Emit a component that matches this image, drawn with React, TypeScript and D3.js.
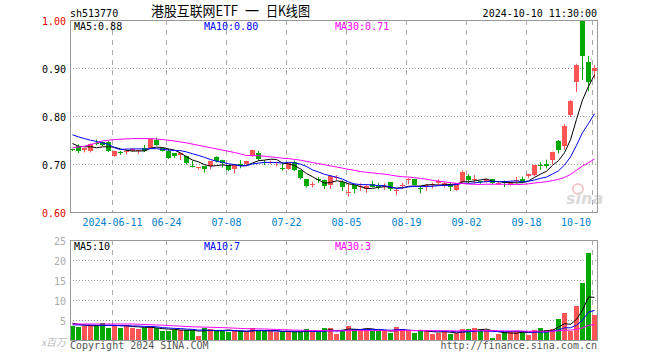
import React from 'react';
import * as d3 from 'd3';

// ---------- data ----------
const dates = [
  '05-30','05-31','06-03','06-04','06-05','06-06','06-07','06-11','06-12','06-13',
  '06-14','06-17','06-18','06-19','06-20','06-21','06-24','06-25','06-26','06-27',
  '06-28','07-01','07-02','07-03','07-04','07-05','07-08','07-09','07-10','07-11',
  '07-12','07-15','07-16','07-17','07-18','07-19','07-22','07-23','07-24','07-25',
  '07-26','07-29','07-30','07-31','08-01','08-02','08-05','08-06','08-07','08-08',
  '08-09','08-12','08-13','08-14','08-15','08-16','08-19','08-20','08-21','08-22',
  '08-23','08-26','08-27','08-28','08-29','08-30','09-02','09-03','09-04','09-05',
  '09-06','09-09','09-10','09-11','09-12','09-13','09-18','09-19','09-20','09-23',
  '09-24','09-25','09-26','09-27','09-30','10-08','10-09','10-10'
];
const opens = [
  0.731,0.737,0.728,0.728,0.743,0.746,0.746,0.718,0.725,0.727,
  0.728,0.728,0.734,0.734,0.751,0.734,0.728,0.722,0.717,0.716,
  0.695,0.693,0.695,0.695,0.715,0.709,0.697,0.688,0.700,0.699,
  0.717,0.723,0.705,0.704,0.703,0.692,0.690,0.704,0.687,0.669,
  0.658,0.668,0.667,0.657,0.672,0.662,0.641,0.656,0.653,0.647,
  0.659,0.654,0.654,0.662,0.644,0.656,0.667,0.669,0.650,0.656,
  0.657,0.660,0.656,0.659,0.646,0.662,0.674,0.668,0.664,0.663,
  0.669,0.660,0.662,0.660,0.665,0.669,0.674,0.676,0.697,0.700,
  0.708,0.747,0.738,0.802,0.872,1.000,0.912,0.893
];
const highs = [
  0.733,0.742,0.734,0.744,0.752,0.748,0.748,0.729,0.728,0.731,
  0.734,0.731,0.741,0.754,0.756,0.735,0.733,0.724,0.723,0.718,
  0.708,0.694,0.696,0.707,0.717,0.710,0.698,0.698,0.709,0.707,
  0.731,0.728,0.709,0.708,0.706,0.702,0.704,0.708,0.688,0.670,
  0.664,0.674,0.669,0.678,0.678,0.667,0.661,0.657,0.661,0.659,
  0.666,0.661,0.661,0.663,0.649,0.662,0.672,0.670,0.655,0.660,
  0.662,0.669,0.664,0.662,0.661,0.688,0.680,0.678,0.666,0.670,
  0.670,0.664,0.667,0.664,0.674,0.675,0.681,0.699,0.705,0.710,
  0.726,0.751,0.784,0.834,0.910,1.000,0.926,0.907
];
const lows = [
  0.728,0.724,0.725,0.725,0.740,0.738,0.726,0.716,0.720,0.721,
  0.727,0.722,0.726,0.733,0.739,0.727,0.712,0.714,0.709,0.700,
  0.694,0.689,0.683,0.690,0.704,0.694,0.686,0.681,0.692,0.698,
  0.716,0.708,0.699,0.701,0.696,0.687,0.689,0.686,0.669,0.652,
  0.652,0.662,0.649,0.649,0.667,0.645,0.633,0.640,0.645,0.641,
  0.652,0.648,0.647,0.645,0.636,0.649,0.659,0.656,0.640,0.645,
  0.650,0.657,0.652,0.645,0.645,0.661,0.659,0.660,0.660,0.662,
  0.658,0.657,0.653,0.656,0.660,0.661,0.671,0.675,0.689,0.692,
  0.700,0.723,0.731,0.799,0.851,0.876,0.853,0.879
];
const closes = [
  0.730,0.727,0.733,0.742,0.742,0.740,0.728,0.728,0.724,0.728,
  0.732,0.729,0.728,0.752,0.740,0.728,0.714,0.716,0.722,0.701,
  0.694,0.694,0.688,0.706,0.706,0.702,0.687,0.697,0.696,0.706,
  0.730,0.710,0.704,0.705,0.704,0.691,0.702,0.687,0.670,0.655,
  0.659,0.667,0.655,0.676,0.673,0.652,0.642,0.648,0.654,0.654,
  0.653,0.653,0.655,0.648,0.645,0.657,0.668,0.657,0.649,0.657,
  0.658,0.665,0.660,0.652,0.660,0.683,0.665,0.669,0.663,0.669,
  0.660,0.661,0.661,0.661,0.666,0.662,0.679,0.697,0.696,0.695,
  0.724,0.728,0.780,0.831,0.907,0.926,0.870,0.900
];
// volume, millions
const volumes = [
  3.6,3.2,3.6,3.7,3.7,4.2,3.1,3.7,3.1,3.8,
  3.1,2.8,2.9,3.4,2.9,2.2,2.2,2.6,2.6,2.6,
  2.4,0.9,3.1,2.8,2.4,2.4,1.9,2.2,2.2,2.0,
  3.1,2.2,2.2,2.2,2.0,2.0,2.2,2.0,2.0,2.7,
  2.0,2.0,3.1,3.0,1.5,2.6,3.6,2.7,2.7,2.7,
  2.2,2.2,2.2,1.8,3.2,2.7,2.2,1.8,2.2,2.6,
  1.6,1.8,2.2,1.5,1.7,2.7,2.7,3.1,2.7,2.4,
  0.6,1.6,1.9,2.2,2.2,1.9,1.2,2.6,3.1,2.4,
  2.8,5.3,6.8,2.3,8.6,14.3,21.8,6.3
];
// moving-average values before the window is complete
const ma5Head: [number, number][] = [[0, 0.7437], [1, 0.738], [2, 0.737], [3, 0.737]];
const ma10Head: [number, number][] = [[0, 0.762], [1, 0.7575], [2, 0.754], [3, 0.7506], [4, 0.748], [5, 0.745], [6, 0.742], [7, 0.735], [8, 0.731]];
const ma30Head: [number, number][] = [[0, 0.735], [2, 0.738], [4, 0.745], [5, 0.749], [7, 0.752], [10, 0.754], [13, 0.754], [15, 0.752], [17, 0.749], [19, 0.745], [21, 0.740], [23, 0.735], [25, 0.730], [27, 0.725], [28, 0.722]];
const volMa5Head: [number, number][] = [[0, 4.2], [1, 3.9], [2, 3.7], [3, 3.6]];
const volMa10Head: [number, number][] = [[0, 3.8], [4, 3.7], [8, 3.6]];
const volMa30Head: [number, number][] = [[0, 4.0], [10, 4.0], [15, 3.7], [20, 3.3], [25, 3.1], [28, 2.9]];

const tickDates = ['06-11', '06-24', '07-08', '07-22', '08-05', '08-19', '09-02', '09-18', '10-10'];
const tickLabels = ['2024-06-11', '06-24', '07-08', '07-22', '08-05', '08-19', '09-02', '09-18', '10-10'];
const priceTicks = [0.6, 0.7, 0.8, 0.9, 1.0];
const volTicks = [5, 10, 15, 20, 25];

const titleParts = ['港股互联网ETF', '一', '日K线图'];
const maLabels = ['MA5:0.88', 'MA10:0.80', 'MA30:0.71'];
const volMaLabels = ['MA5:10', 'MA10:7', 'MA30:3'];
const maColors = ['#000000', '#0000ff', '#ff00ff'];

// ---------- layout ----------
const W = 660, H = 360;
const L = 70, R = 597;
const mainTop = 20, mainBot = 212;
const volTop = 240, volBot = 340;
const UP = '#ff5555';
const DOWN = '#00a800';
const MONO = '"DejaVu Sans Mono", "Liberation Mono", monospace';
const CJK = '"Noto Sans CJK SC", sans-serif';

function movingAvg(values: number[], n: number, head: [number, number][]): [number, number][] {
  const pts: [number, number][] = head.slice();
  for (let i = n - 1; i < values.length; i++) {
    pts.push([i, d3.mean(values.slice(i - n + 1, i + 1)) as number]);
  }
  return pts;
}

export default function App() {
  const x = d3.scaleBand<string>().domain(dates).range([L, R]).paddingInner(1 / 6).paddingOuter(0);
  const bw = x.bandwidth();
  const y = d3.scaleLinear().domain([0.6, 1.0]).range([mainBot + 0.5, mainTop + 0.5]);
  const yv = d3.scaleLinear().domain([0, 25]).range([volBot, volTop]);

  const lineP = d3.line<[number, number]>().x(d => (x(dates[d[0]]) as number) + bw / 2).y(d => y(d[1]));
  const lineV = d3.line<[number, number]>().x(d => (x(dates[d[0]]) as number) + bw / 2).y(d => yv(d[1]));

  const priceMAs = [movingAvg(closes, 5, ma5Head), movingAvg(closes, 10, ma10Head), movingAvg(closes, 30, ma30Head)];
  const volMAs = [movingAvg(volumes, 5, volMa5Head), movingAvg(volumes, 10, volMa10Head), movingAvg(volumes, 30, volMa30Head)];

  const gridXs = tickDates.map(d => Math.round(x(d) as number) + 0.5);

  return (
    <svg width={W} height={H} style={{ position: 'absolute', left: 0, top: 0, background: '#fff' }}>
      <defs>
        <clipPath id="mainClip"><rect x={L} y={mainTop} width={R - L + 1} height={mainBot - mainTop + 1} /></clipPath>
        <clipPath id="volClip"><rect x={L} y={volTop} width={R - L + 1} height={volBot - volTop + 1} /></clipPath>
      </defs>

      {/* header */}
      <text x={L} y={16.5} fontFamily={MONO} fontSize={10} fill="#000">sh513770</text>
      <text x={151} y={16} fontFamily={CJK} fontSize={14} fill="#000" textLength={87} lengthAdjust="spacingAndGlyphs">{titleParts[0]}</text>
      <text x={245} y={16} fontFamily={CJK} fontSize={14} fill="#000">{titleParts[1]}</text>
      <text x={266} y={16} fontFamily={CJK} fontSize={14} fill="#000" textLength={44} lengthAdjust="spacingAndGlyphs">{titleParts[2]}</text>
      <text x={R} y={16.5} textAnchor="end" fontFamily={MONO} fontSize={10} fill="#000">2024-10-10 11:30:00</text>

      {/* main grid */}
      {priceTicks.filter(t => t > 0.6 && t < 1.0).map(t => (
        <line key={'hp' + t} x1={L} x2={R} y1={y(t)} y2={y(t)} stroke="#999" strokeDasharray="1,2" />
      ))}
      {gridXs.map((gx, i) => (
        <line key={'vg' + i} x1={gx} x2={gx} y1={mainTop} y2={mainBot} stroke="#aaa" strokeDasharray="5,5" />
      ))}

      {/* watermark */}
      <g opacity={0.9}>
        <circle cx={578} cy={189} r={5} fill="none" stroke="#f4c4c4" strokeWidth={2} />
        <text x={566} y={204} fontFamily='"DejaVu Sans", sans-serif' fontStyle="italic" fontWeight="bold" fontSize={16} fill="#d6d6d6">sina</text>
      </g>

      {/* candles */}
      <g clipPath="url(#mainClip)">
        {dates.map((d, i) => {
          const o = opens[i], c = closes[i], hi = highs[i], lo = lows[i];
          const col = c >= o ? UP : DOWN;
          const left = x(d) as number;
          const yo = y(o), yc = y(c);
          const top = Math.round(Math.min(yo, yc) - 0.5);
          const h = Math.max(1, Math.round(Math.abs(yo - yc)));
          const cx = left + Math.floor(bw / 2) + 0.5;
          return (
            <g key={'c' + i}>
              <line x1={cx} x2={cx} y1={y(hi)} y2={y(lo)} stroke={col} strokeWidth={1} />
              <rect x={left} y={top} width={bw} height={h} fill={col} />
            </g>
          );
        })}
        {priceMAs.map((pts, k) => (
          <path key={'ma' + k} d={lineP(pts) as string} fill="none" stroke={maColors[k]} strokeWidth={1} />
        ))}
      </g>

      {/* main frame */}
      <rect x={L + 0.5} y={mainTop + 0.5} width={R - L} height={mainBot - mainTop} fill="none" stroke="#999" />

      {/* price labels */}
      {priceTicks.map(t => (
        <text key={'pl' + t} x={66} y={y(t) + 4} textAnchor="end" fontFamily={MONO} fontSize={10}
          fill={t === 0.6 || t === 1.0 ? '#e00000' : '#000'}>{t.toFixed(2)}</text>
      ))}
      {maLabels.map((s, k) => (
        <text key={'ml' + k} x={[74, 204, 335][k]} y={29.5} fontFamily={MONO} fontSize={10} fill={maColors[k]}>{s}</text>
      ))}

      {/* date labels */}
      {tickLabels.map((s, i) => {
        const last = i === tickLabels.length - 1;
        return (
          <text key={'dl' + i} x={last ? 591 : gridXs[i]} y={225.5} textAnchor={last ? 'end' : 'middle'}
            fontFamily={MONO} fontSize={10} fill="#0080cc">{s}</text>
        );
      })}

      {/* volume panel */}
      {volTicks.filter(t => t < 25).map(t => (
        <line key={'hv' + t} x1={L} x2={R} y1={yv(t) + 0.5} y2={yv(t) + 0.5} stroke="#999" strokeDasharray="1,2" />
      ))}
      {gridXs.map((gx, i) => (
        <line key={'vgv' + i} x1={gx} x2={gx} y1={volTop} y2={volBot} stroke="#aaa" strokeDasharray="5,5" />
      ))}
      <g clipPath="url(#volClip)">
        {dates.map((d, i) => {
          const col = closes[i] >= opens[i] ? UP : DOWN;
          const top = Math.round(yv(volumes[i]));
          return <rect key={'v' + i} x={x(d) as number} y={top} width={bw} height={volBot - top} fill={col} />;
        })}
        {volMAs.map((pts, k) => (
          <path key={'vma' + k} d={lineV(pts) as string} fill="none" stroke={maColors[k]} strokeWidth={1} />
        ))}
      </g>
      <rect x={L + 0.5} y={volTop + 0.5} width={R - L} height={volBot - volTop} fill="none" stroke="#999" />
      {volTicks.map(t => (
        <text key={'vl' + t} x={66} y={yv(t) + 4.5} textAnchor="end" fontFamily={MONO} fontSize={10} fill="#aaa">{t}</text>
      ))}
      {volMaLabels.map((s, k) => (
        <text key={'vml' + k} x={[74, 204, 335][k]} y={250} fontFamily={MONO} fontSize={10} fill={maColors[k]}>{s}</text>
      ))}

      {/* footer */}
      <text x={66} y={346} textAnchor="end" fontFamily={CJK} fontSize={10} fontStyle="italic" fill="#bbb">x百万</text>
      <text x={L} y={348.5} fontFamily={MONO} fontSize={10} fill="#555">Copyright 2024 SINA.COM</text>
      <text x={R} y={348.5} textAnchor="end" fontFamily={MONO} fontSize={10} fill="#555">http://finance.sina.com.cn</text>
    </svg>
  );
}
